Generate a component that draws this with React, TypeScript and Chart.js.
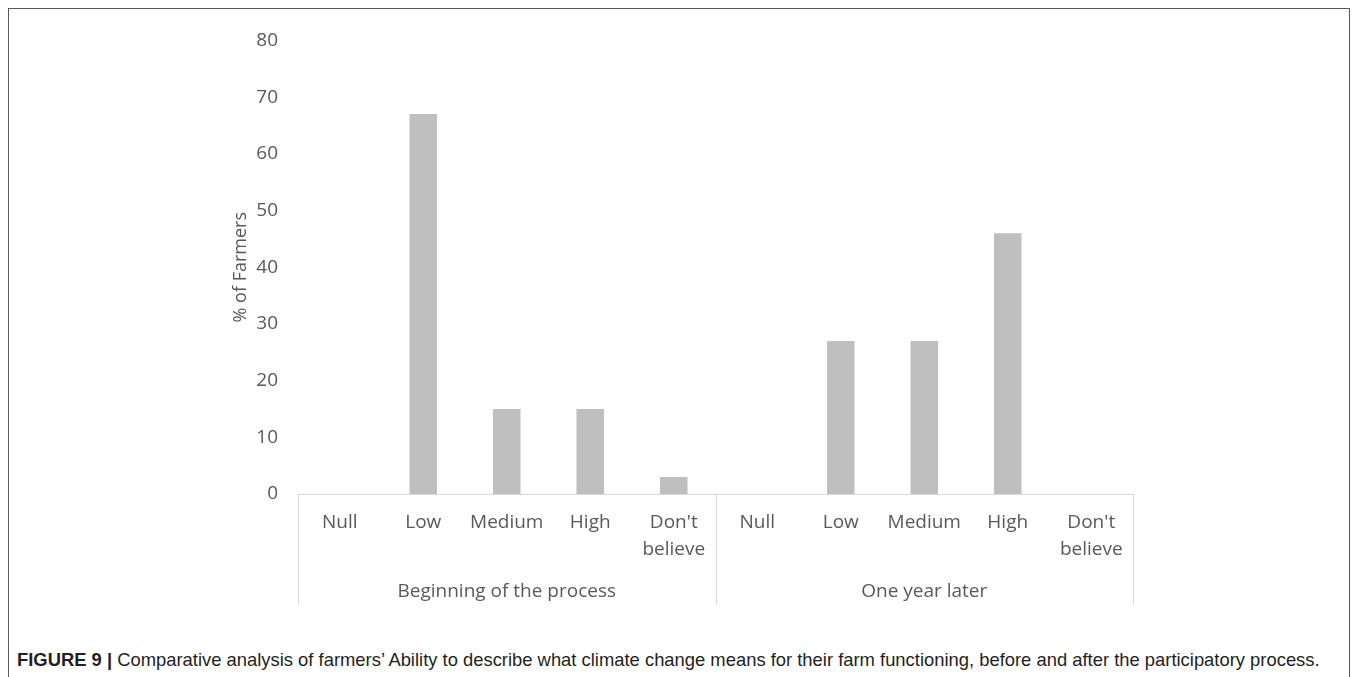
import React, { useEffect, useRef } from "react";
import { Chart, registerables } from "chart.js";

Chart.register(...registerables);

// Ability levels shown for each survey round
const levels: (string | string[])[] = [
  "Null", "Low", "Medium", "High", ["Don't", "believe"],
  "Null", "Low", "Medium", "High", ["Don't", "believe"],
];
const rounds = ["Beginning of the process", "One year later"];
// % of farmers per level: first five = beginning, last five = one year later
const farmersPct = [0, 67, 15, 15, 3, 0, 27, 27, 46, 0];
const yTicks = { min: 0, max: 80, step: 10 };

const AXIS_COLOR = "#595959";
const LINE_COLOR = "#d9d9d9";
const FONT = "'Open Sans', 'DejaVu Sans', sans-serif";

// Draws the vertical separators that frame the two survey rounds on the category axis
const groupSeparators = {
  id: "groupSeparators",
  afterDraw(chart: any) {
    const x = chart.scales.x;
    const x2 = chart.scales.x2;
    const { ctx, chartArea } = chart;
    const half = (x.getPixelForValue(1) - x.getPixelForValue(0)) / 2;
    const mid = (x.getPixelForValue(4) + x.getPixelForValue(5)) / 2;
    const xs = [x.getPixelForValue(0) - half, mid, x.getPixelForValue(9) + half];
    ctx.save();
    ctx.strokeStyle = LINE_COLOR;
    ctx.lineWidth = 1;
    xs.forEach((px) => {
      const p = Math.round(px) + 0.5;
      ctx.beginPath();
      ctx.moveTo(p, chartArea.bottom);
      ctx.lineTo(p, x2.bottom);
      ctx.stroke();
    });
    ctx.restore();
  },
};

export default function App() {
  const canvasRef = useRef<HTMLCanvasElement | null>(null);

  useEffect(() => {
    if (!canvasRef.current) return;
    const chart = new Chart(canvasRef.current, {
      type: "bar",
      data: {
        labels: levels,
        datasets: [
          {
            data: farmersPct,
            backgroundColor: "#bfbfbf",
            barPercentage: 0.33,
            categoryPercentage: 1,
            xAxisID: "x",
          },
        ],
      },
      options: {
        animation: false,
        responsive: true,
        maintainAspectRatio: false,
        layout: { padding: { left: 221, right: 216, top: 27, bottom: 14 } },
        plugins: { legend: { display: false }, tooltip: { enabled: false } },
        scales: {
          y: {
            min: yTicks.min,
            max: yTicks.max,
            ticks: {
              stepSize: yTicks.step,
              padding: 20,
              color: AXIS_COLOR,
              font: { family: FONT, size: 19 },
            },
            grid: { display: false, drawTicks: false },
            border: { display: false },
            title: {
              display: true,
              text: "% of Farmers",
              color: AXIS_COLOR,
              font: { family: FONT, size: 18 },
              padding: { top: 0, bottom: 0 },
            },
            afterFit(scale: any) {
              scale.width = 68;
            },
          },
          x: {
            position: "bottom",
            ticks: {
              autoSkip: false,
              maxRotation: 0,
              minRotation: 0,
              padding: 15,
              color: AXIS_COLOR,
              font: { family: FONT, size: 19, lineHeight: 1.42 },
            },
            grid: { display: false, drawTicks: false },
            border: { display: true, color: LINE_COLOR, width: 1 },
            afterFit(scale: any) {
              scale.height = 70;
            },
          },
          x2: {
            type: "category",
            position: "bottom",
            labels: rounds,
            offset: true,
            ticks: {
              autoSkip: false,
              maxRotation: 0,
              padding: 16,
              color: AXIS_COLOR,
              font: { family: FONT, size: 19 },
            },
            grid: { display: false, drawTicks: false },
            border: { display: false },
            afterFit(scale: any) {
              scale.height = 41;
            },
          },
        },
      },
      plugins: [groupSeparators],
    });
    return () => chart.destroy();
  }, []);

  return (
    <div
      style={{
        position: "relative",
        width: 1340,
        height: 700,
        border: "1px solid #595959",
        background: "#fff",
      }}
    >
      <div style={{ position: "absolute", left: 0, top: 0, width: 1340, height: 610 }}>
        <canvas ref={canvasRef} />
      </div>
      <div
        style={{
          position: "absolute",
          left: 8,
          top: 640,
          fontFamily: "'Liberation Sans', Arial, sans-serif",
          fontSize: 18.4,
          lineHeight: "22px",
          color: "#231f20",
          whiteSpace: "nowrap",
        }}
      >
        <b>FIGURE 9 |</b> Comparative analysis of farmers’ Ability to describe what climate change
        means for their farm functioning, before and after the participatory process.
      </div>
    </div>
  );
}
